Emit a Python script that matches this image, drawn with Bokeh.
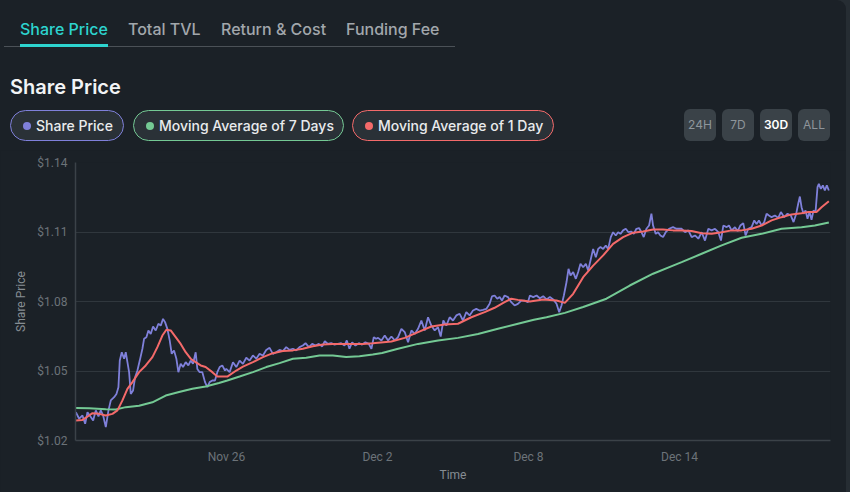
from datetime import datetime, timedelta

from bokeh.plotting import figure
from bokeh.models import ColumnDataSource, Div, FixedTicker, NumeralTickFormatter, Range1d
from bokeh.layouts import column, row
from bokeh.embed import file_html
from bokeh.resources import INLINE

# ---------------- data (days after Nov 20, value in $) ----------------
price_days = [
    0.013, 0.146, 0.278, 0.384, 0.476, 0.608, 0.701, 0.807, 0.913, 1.005, 1.098, 1.204, 1.310, 1.402,
    1.534, 1.627, 1.706, 1.759, 1.839, 1.931, 1.997, 2.063, 2.130, 2.196, 2.288, 2.368, 2.460, 2.553,
    2.659, 2.725, 2.817, 2.897, 2.989, 3.082, 3.188, 3.294, 3.386, 3.479, 3.558, 3.651, 3.743, 3.823,
    3.915, 4.008, 4.087, 4.180, 4.272, 4.378, 4.484, 4.577, 4.669, 4.775, 4.841, 4.934, 5.040, 5.146,
    5.238, 5.331, 5.437, 5.542, 5.635, 5.728, 5.833, 5.939,
    5.992, 6.124, 6.257, 6.389, 6.521, 6.653, 6.786, 6.918, 7.050, 7.183, 7.315, 7.447, 7.579, 7.712,
    7.844, 7.976, 8.108, 8.241, 8.373, 8.505, 8.638, 8.770, 8.902, 9.034, 9.140, 9.272, 9.405, 9.537,
    9.669, 9.802, 9.907, 10.026, 10.159, 10.291, 10.423, 10.556, 10.688, 10.780, 10.886, 10.992,
    11.124, 11.257, 11.389, 11.521, 11.653, 11.759, 11.852, 11.944,
    12.024, 12.156, 12.288, 12.421, 12.553, 12.685, 12.817, 12.950, 13.082, 13.214, 13.347, 13.479,
    13.611, 13.743, 13.876, 14.008, 14.140, 14.273, 14.405, 14.511, 14.616, 14.735, 14.868, 15.000,
    15.132, 15.265, 15.397, 15.529, 15.661, 15.794, 15.926, 16.058, 16.190, 16.323, 16.455, 16.548,
    16.653, 16.759, 16.852, 16.944, 17.050, 17.183, 17.315, 17.447, 17.579, 17.712, 17.844, 17.976,
    18.056, 18.188, 18.320, 18.452, 18.585, 18.717, 18.849, 18.981, 19.114, 19.220, 19.312, 19.405,
    19.511, 19.590, 19.669, 19.775, 19.881, 19.974, 20.066, 20.172, 20.278, 20.370, 20.463, 20.569,
    20.675, 20.767, 20.860, 20.966, 21.071, 21.164, 21.270, 21.362, 21.468, 21.561, 21.654, 21.759,
    21.865, 21.971, 22.077, 22.183, 22.288, 22.394, 22.487, 22.579, 22.685, 22.791, 22.884, 22.950,
    23.056, 23.148, 23.241, 23.347, 23.452, 23.585, 23.743, 23.876, 24.008,
    24.087, 24.220, 24.352, 24.484, 24.616, 24.749, 24.881, 25.013, 25.146, 25.278, 25.410, 25.542,
    25.648, 25.741, 25.873, 25.966, 26.071, 26.204, 26.310, 26.415, 26.534, 26.627, 26.733, 26.865,
    26.971, 27.063, 27.156, 27.262, 27.368, 27.460, 27.553, 27.659, 27.791, 27.924, 28.029, 28.161,
    28.294, 28.426, 28.532, 28.638, 28.717, 28.783, 28.849, 28.929, 29.008, 29.087, 29.167, 29.246,
    29.325, 29.405, 29.484, 29.537, 29.616, 29.696, 29.775, 29.854, 29.934,
]
price_vals = [
    1.0322, 1.0294, 1.0308, 1.0272, 1.0322, 1.0301, 1.0286, 1.0330, 1.0304, 1.0330, 1.0308, 1.0258, 1.0330, 1.0373,
    1.0387, 1.0401, 1.0430, 1.0545, 1.0581, 1.0553, 1.0581, 1.0538, 1.0495, 1.0401, 1.0416, 1.0473, 1.0502, 1.0545,
    1.0596, 1.0639, 1.0646, 1.0675, 1.0660, 1.0692, 1.0675, 1.0704, 1.0696, 1.0725, 1.0711, 1.0682, 1.0632, 1.0574,
    1.0589, 1.0553, 1.0495, 1.0531, 1.0517, 1.0538, 1.0524, 1.0545, 1.0531, 1.0581, 1.0509, 1.0495, 1.0495, 1.0452,
    1.0430, 1.0452, 1.0459, 1.0459, 1.0495, 1.0517, 1.0524, 1.0502,
    1.0509, 1.0495, 1.0538, 1.0517, 1.0545, 1.0531, 1.0557, 1.0545, 1.0567, 1.0553, 1.0574, 1.0567, 1.0591, 1.0600,
    1.0574, 1.0581, 1.0591, 1.0586, 1.0603, 1.0591, 1.0596, 1.0589, 1.0603, 1.0610, 1.0620, 1.0603, 1.0617, 1.0610,
    1.0617, 1.0606, 1.0629, 1.0617, 1.0620, 1.0614, 1.0617, 1.0620, 1.0610, 1.0632, 1.0596, 1.0624,
    1.0610, 1.0620, 1.0614, 1.0624, 1.0617, 1.0596, 1.0646, 1.0639,
    1.0643, 1.0632, 1.0653, 1.0632, 1.0649, 1.0632, 1.0646, 1.0682, 1.0668, 1.0624, 1.0675, 1.0660,
    1.0682, 1.0718, 1.0675, 1.0732, 1.0696, 1.0675, 1.0689, 1.0649, 1.0718, 1.0696, 1.0732, 1.0718,
    1.0740, 1.0747, 1.0718, 1.0754, 1.0740, 1.0761, 1.0768, 1.0761, 1.0764, 1.0768, 1.0790, 1.0822,
    1.0826, 1.0812, 1.0819, 1.0804, 1.0826, 1.0819, 1.0797, 1.0783, 1.0790, 1.0804, 1.0804, 1.0797,
    1.0826, 1.0819, 1.0826, 1.0814, 1.0823, 1.0809, 1.0819, 1.0809, 1.0790, 1.0754, 1.0783, 1.0826,
    1.0884, 1.0941, 1.0912, 1.0927, 1.0898, 1.0927, 1.0963, 1.0948, 1.0963, 1.0934, 1.0977, 1.1027,
    1.0991, 1.1027, 1.1035, 1.1027, 1.1042, 1.1027, 1.1078, 1.1099, 1.1085, 1.1099, 1.1092, 1.1107,
    1.1114, 1.1099, 1.1102, 1.1092, 1.1114, 1.1117, 1.1099, 1.1078, 1.1114, 1.1128, 1.1179, 1.1128,
    1.1092, 1.1099, 1.1085, 1.1078, 1.1099, 1.1114, 1.1121, 1.1114, 1.1114,
    1.1114, 1.1099, 1.1107, 1.1078, 1.1085, 1.1071, 1.1099, 1.1063, 1.1114, 1.1107, 1.1114, 1.1099,
    1.1063, 1.1128, 1.1121, 1.1128, 1.1107, 1.1121, 1.1104, 1.1128, 1.1138, 1.1085, 1.1114, 1.1121,
    1.1150, 1.1135, 1.1150, 1.1128, 1.1143, 1.1179, 1.1171, 1.1164, 1.1171, 1.1161, 1.1186, 1.1164,
    1.1179, 1.1171, 1.1143, 1.1179, 1.1222, 1.1253, 1.1207, 1.1179, 1.1193, 1.1157, 1.1186, 1.1153,
    1.1193, 1.1186, 1.1294, 1.1308, 1.1286, 1.1301, 1.1279, 1.1301, 1.1279,
]

ma1_days = [
    0.013, 0.278, 0.542, 0.675, 0.939, 1.204, 1.468, 1.667, 1.865, 2.063, 2.262, 2.526, 2.791, 3.056,
    3.254, 3.452, 3.611, 3.783, 3.981, 4.180, 4.378, 4.577, 4.775, 4.974, 5.172, 5.437, 5.635, 5.833,
    6.032, 6.389, 6.653, 7.050, 7.447, 7.844, 8.241, 8.638, 9.034, 9.431, 9.828, 10.225, 10.622,
    11.019, 11.415, 11.812, 12.024, 12.553, 13.082, 13.611, 14.140, 14.669, 15.198, 15.728, 16.257,
    16.653, 17.050, 17.315, 17.579, 17.976, 18.056, 18.585, 19.114, 19.444, 19.775, 20.172, 20.569,
    20.966, 21.362, 21.759, 22.156, 22.553, 22.950, 23.347, 23.743, 24.087, 24.484, 24.881, 25.278,
    25.675, 26.071, 26.468, 26.865, 27.262, 27.659, 28.056, 28.452, 28.849, 29.114, 29.444, 29.643,
    29.934,
]
ma1_vals = [
    1.0286, 1.0289, 1.0308, 1.0318, 1.0315, 1.0308, 1.0315, 1.0330, 1.0373, 1.0423, 1.0452, 1.0495, 1.0524, 1.0560,
    1.0603, 1.0653, 1.0678, 1.0675, 1.0646, 1.0617, 1.0581, 1.0553, 1.0538, 1.0524, 1.0517, 1.0495, 1.0476, 1.0476,
    1.0476, 1.0502, 1.0519, 1.0538, 1.0560, 1.0577, 1.0586, 1.0589, 1.0596, 1.0607, 1.0614, 1.0617, 1.0617,
    1.0617, 1.0617, 1.0620, 1.0622, 1.0627, 1.0643, 1.0668, 1.0692, 1.0701, 1.0704, 1.0732, 1.0754,
    1.0773, 1.0797, 1.0812, 1.0807, 1.0801, 1.0800, 1.0809, 1.0804, 1.0794, 1.0833, 1.0905, 1.0955,
    1.0999, 1.1049, 1.1078, 1.1097, 1.1102, 1.1111, 1.1111, 1.1107, 1.1107, 1.1104, 1.1095, 1.1092,
    1.1099, 1.1107, 1.1107, 1.1114, 1.1128, 1.1150, 1.1164, 1.1176, 1.1181, 1.1186, 1.1186, 1.1207,
    1.1233,
]

ma7_days = [
    0.013, 0.542, 1.204, 1.601, 1.997, 2.526, 3.056, 3.585, 4.114, 4.643, 5.172, 5.701, 6.032, 6.521,
    7.050, 7.579, 8.108, 8.638, 9.167, 9.696, 10.225, 10.754, 11.283, 11.812, 12.183, 12.817, 13.611,
    14.405, 15.198, 15.992, 16.786, 17.579, 18.214, 18.717, 19.444, 20.172, 21.098, 22.024, 22.950,
    23.743, 24.087, 24.881, 25.675, 26.468, 27.262, 28.056, 28.849, 29.378, 29.934,
]
ma7_vals = [
    1.0340, 1.0339, 1.0335, 1.0334, 1.0344, 1.0350, 1.0365, 1.0394, 1.0409, 1.0423, 1.0433, 1.0448, 1.0459, 1.0476,
    1.0495, 1.0517, 1.0534, 1.0553, 1.0557, 1.0567, 1.0567, 1.0560, 1.0564, 1.0571, 1.0578, 1.0596, 1.0617,
    1.0632, 1.0643, 1.0660, 1.0682, 1.0704, 1.0721, 1.0732, 1.0751, 1.0776, 1.0812, 1.0869, 1.0920,
    1.0955, 1.0970, 1.1006, 1.1042, 1.1075, 1.1092, 1.1114, 1.1121, 1.1128, 1.1141,
]

y_ticks = [1.02, 1.05, 1.08, 1.11, 1.14]
x_tick_dates = ["2023-11-26", "2023-12-02", "2023-12-08", "2023-12-14"]
x_tick_labels = ["Nov 26", "Dec 2", "Dec 8", "Dec 14"]
tabs = ["Share Price", "Total TVL", "Return & Cost", "Funding Fee"]
legend_names = ["Share Price", "Moving Average of 7 Days", "Moving Average of 1 Day"]
ranges = ["24H", "7D", "30D", "ALL"]

# ---------------- styling ----------------
BG = "#1b2127"
EDGE = "#262d33"
PURPLE = "#7f80da"
GREEN = "#74c994"
RED = "#f46a6a"
TEAL = "#2dd4cf"

start = datetime(2023, 11, 20)
epoch = datetime(1970, 1, 1)


def to_time(days):
    return [start + timedelta(days=d) for d in days]


def ms(dstr):
    return (datetime.strptime(dstr, "%Y-%m-%d") - epoch).total_seconds() * 1000.0


price_src = ColumnDataSource(dict(t=to_time(price_days), v=price_vals))
ma7_src = ColumnDataSource(dict(t=to_time(ma7_days), v=ma7_vals))
ma1_src = ColumnDataSource(dict(t=to_time(ma1_days), v=ma1_vals))

p = figure(
    width=846, height=342, x_axis_type="datetime",
    output_backend="svg", toolbar_location=None,
    x_range=Range1d(start, start + timedelta(days=30)),
    y_range=Range1d(1.02, 1.14),
    min_border_left=75, min_border_right=16, min_border_top=12, min_border_bottom=52,
    background_fill_color=BG, border_fill_color=BG, outline_line_color=None,
    margin=0,
)

p.line("t", "v", source=price_src, line_color=PURPLE, line_width=1.8)
p.line("t", "v", source=ma7_src, line_color=GREEN, line_width=2)
p.line("t", "v", source=ma1_src, line_color=RED, line_width=2)

p.xgrid.visible = False
p.ygrid.grid_line_color = "#30373d"
p.ygrid.grid_line_width = 1

tick_ms = [ms(d) for d in x_tick_dates]
p.xaxis.ticker = FixedTicker(ticks=tick_ms)
p.xaxis.major_label_overrides = {t: lab for t, lab in zip(tick_ms, x_tick_labels)}
p.yaxis.ticker = FixedTicker(ticks=y_ticks)
p.yaxis.formatter = NumeralTickFormatter(format="$0.00")

for ax in (p.xaxis[0], p.yaxis[0]):
    ax.axis_line_color = "#3b4248"
    ax.axis_line_width = 1.5
    ax.major_tick_line_color = None
    ax.minor_tick_line_color = None
    ax.major_tick_out = 0
    ax.major_tick_in = 0
    ax.minor_tick_out = 0
    ax.minor_tick_in = 0
    ax.major_label_text_color = "#6c7379"
    ax.major_label_text_font = "Roboto"
    ax.major_label_text_font_size = "12px"
    ax.axis_label_text_font = "Roboto"
    ax.axis_label_text_font_size = "12px"
    ax.axis_label_text_font_style = "normal"
    ax.axis_label_text_color = "#868d93"

p.xaxis.axis_label = "Time"
p.xaxis.major_label_standoff = 9
p.xaxis.axis_label_standoff = 1
p.yaxis.axis_label = "Share Price"
p.yaxis.major_label_standoff = 8
p.yaxis.axis_label_standoff = 6

# ---------------- header (HTML) ----------------
tab_x = [20, 128, 221, 346]
tab_html = ""
for i, (name, x) in enumerate(zip(tabs, tab_x)):
    color = TEAL if i == 0 else "#a2a7ac"
    tab_html += (
        f'<span style="position:absolute;left:{x}px;top:18px;font-size:16px;font-weight:500;'
        f'line-height:22px;color:{color};white-space:nowrap">{name}</span>'
    )
tab_html += '<div style="position:absolute;left:4px;top:45.5px;width:451px;height:1px;background:#4b5157"></div>'
tab_html += f'<div style="position:absolute;left:20px;top:44px;width:88px;height:2.5px;background:{TEAL}"></div>'

title_html = (
    '<span style="position:absolute;left:10px;top:74px;font-size:20px;font-weight:600;'
    'line-height:26px;color:#f2f4f6;white-space:nowrap">Share Price</span>'
)

pill_x = [10, 133, 352]
pill_w = [114, 211, 202]
pill_c = [PURPLE, GREEN, RED]
pill_html = ""
for name, x, w, c in zip(legend_names, pill_x, pill_w, pill_c):
    pill_html += (
        f'<div style="position:absolute;left:{x}px;top:110px;width:{w}px;height:31px;box-sizing:border-box;'
        f'border:1px solid {c};border-radius:16px;background:#2a3137;display:flex;align-items:center;'
        f'padding-left:12px;">'
        f'<span style="display:inline-block;width:8px;height:8px;border-radius:50%;background:{c};'
        f'margin-right:5px;flex:none"></span>'
        f'<span style="font-size:14px;font-weight:500;color:#e9ebed;white-space:nowrap">{name}</span></div>'
    )

btn_x = [684, 722, 760, 798]
btn_html = ""
for name, x in zip(ranges, btn_x):
    active = name == "30D"
    color = "#ffffff" if active else "#8e959b"
    weight = 600 if active else 400
    btn_html += (
        f'<div style="position:absolute;left:{x}px;top:109px;width:32px;height:32px;border-radius:6px;'
        f'background:#3a4248;display:flex;align-items:center;justify-content:center;'
        f'font-size:12px;font-weight:{weight};color:{color}">{name}</div>'
    )

header = Div(
    text=(
        f'<div style="position:relative;width:850px;height:151px;background:{EDGE};overflow:hidden;'
        f'font-family:Inter, sans-serif;">'
        f'<div style="position:absolute;left:0;top:0;width:846px;height:151px;background:{BG};'
        f'border-top-right-radius:9px"></div>'
        f'{tab_html}{title_html}{pill_html}{btn_html}</div>'
    ),
    width=850, height=150, margin=0,
    styles={"overflow": "hidden", "background-color": BG},
)

strip = Div(text="", width=4, height=342, margin=0, styles={"background-color": EDGE})

layout = column(header, row(p, strip, margin=0, spacing=0), width=850, height=492,
                margin=0, spacing=0, styles={"background-color": BG})

with open("out.html", "w") as f:
    f.write(file_html(layout, INLINE))
